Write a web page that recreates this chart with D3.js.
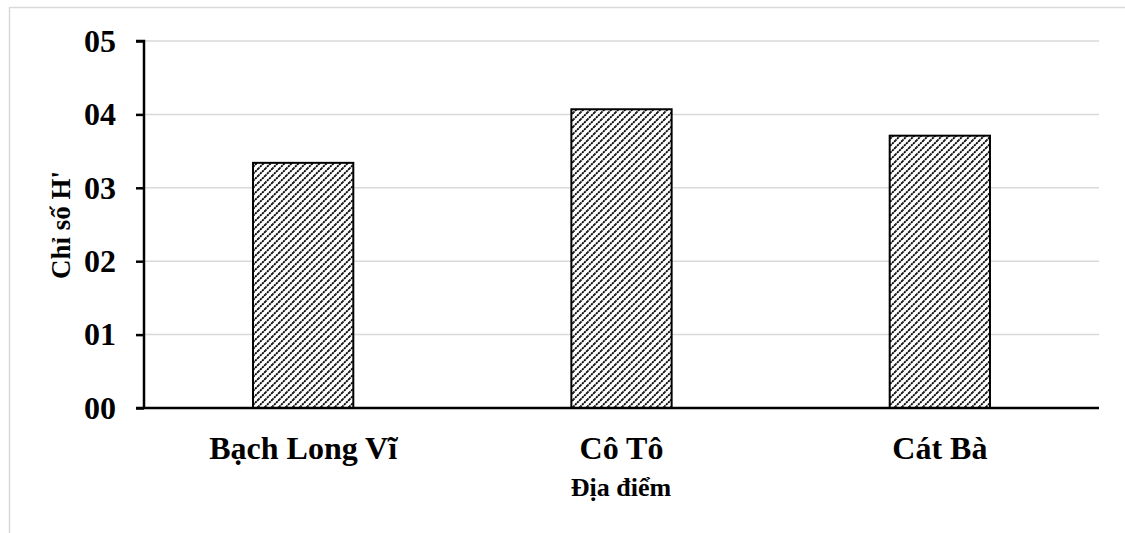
<!DOCTYPE html>
<html>
<head>
<meta charset="utf-8">
<script src="https://cdn.jsdelivr.net/npm/d3@7"></script>
<style>
  html, body { margin: 0; padding: 0; background: #fff; }
  svg { display: block; }
</style>
</head>
<body>
<svg id="chart" width="1125" height="533"></svg>
<script>
// Shannon diversity index H' by site
const categories = ["Bạch Long Vĩ", "Cô Tô", "Cát Bà"];
const values = [3.34, 4.07, 3.71];
const yTicks = [0, 1, 2, 3, 4, 5];
const yTickLabels = ["00", "01", "02", "03", "04", "05"];
const yTitle = "Chỉ số H'";
const xTitle = "Địa điểm";

const svg = d3.select("#chart");
const font = "'Liberation Serif', 'Times New Roman', serif";

// Chart frame
svg.append("path")
  .attr("d", "M9.5,533 L9.5,7.5 L1125,7.5")
  .attr("fill", "none")
  .attr("stroke", "#d9d9d9")
  .attr("stroke-width", 1.5);

const margin = { left: 144, right: 1099, top: 41, bottom: 408 };

const x = d3.scaleBand()
  .domain(categories)
  .range([margin.left, margin.right])
  .paddingInner(0.685)
  .paddingOuter(0.3425);

const y = d3.scaleLinear()
  .domain([0, 5])
  .range([margin.bottom, margin.top]);

// Diagonal hatch fill
const defs = svg.append("defs");
const P = 7;
const pat = defs.append("pattern")
  .attr("id", "hatch")
  .attr("patternUnits", "userSpaceOnUse")
  .attr("width", P)
  .attr("height", P);
pat.append("rect").attr("width", P).attr("height", P).attr("fill", "#fff");
pat.append("path")
  .attr("d", `M-1,${P + 1} L${P + 1},-1 M${-P / 2 - 1},${P / 2 + 1} L${P / 2 + 1},${-P / 2 - 1} M${P / 2 - 1},${1.5 * P + 1} L${1.5 * P + 1},${P / 2 - 1}`)
  .attr("stroke", "#000")
  .attr("stroke-width", 1.8)
  .attr("stroke-dasharray", "2.2,0.7");

// Gridlines
svg.append("g")
  .selectAll("line")
  .data(yTicks.filter(d => d > 0))
  .join("line")
  .attr("x1", margin.left)
  .attr("x2", margin.right)
  .attr("y1", d => y(d))
  .attr("y2", d => y(d))
  .attr("stroke", "#d9d9d9")
  .attr("stroke-width", 1.5);

// Bars
svg.append("g")
  .selectAll("rect")
  .data(categories)
  .join("rect")
  .attr("x", d => x(d))
  .attr("y", (d, i) => y(values[i]))
  .attr("width", x.bandwidth())
  .attr("height", (d, i) => y(0) - y(values[i]))
  .attr("fill", "url(#hatch)")
  .attr("stroke", "#000")
  .attr("stroke-width", 2);

// Y axis
const yAxis = svg.append("g")
  .attr("transform", `translate(${margin.left},0)`)
  .call(d3.axisLeft(y)
    .tickValues(yTicks)
    .tickFormat((d, i) => yTickLabels[i])
    .tickSize(8)
    .tickPadding(20));
yAxis.select(".domain").attr("stroke", "#000").attr("stroke-width", 2.5)
  .attr("d", `M-8,${margin.top}H0V${margin.bottom}`);
yAxis.selectAll(".tick line").attr("stroke", "#000").attr("stroke-width", 2.5);
yAxis.selectAll(".tick text")
  .attr("font-family", font)
  .attr("font-weight", "bold")
  .attr("font-size", 32)
  .attr("fill", "#000");

// X axis
const xAxis = svg.append("g")
  .attr("transform", `translate(0,${margin.bottom})`)
  .call(d3.axisBottom(x).tickSize(0).tickPadding(28));
xAxis.select(".domain").attr("stroke", "#000").attr("stroke-width", 2.5)
  .attr("d", `M${margin.left - 8},0H${margin.right}`);
xAxis.selectAll(".tick text")
  .attr("font-family", font)
  .attr("font-weight", "bold")
  .attr("font-size", 32)
  .attr("fill", "#000");

// Axis titles
svg.append("text")
  .attr("transform", `translate(70,225) rotate(-90)`)
  .attr("text-anchor", "middle")
  .attr("font-family", font)
  .attr("font-weight", "bold")
  .attr("font-size", 27)
  .text(yTitle);

svg.append("text")
  .attr("x", 621)
  .attr("y", 496)
  .attr("text-anchor", "middle")
  .attr("font-family", font)
  .attr("font-weight", "bold")
  .attr("font-size", 26)
  .text(xTitle);
</script>
</body>
</html>
